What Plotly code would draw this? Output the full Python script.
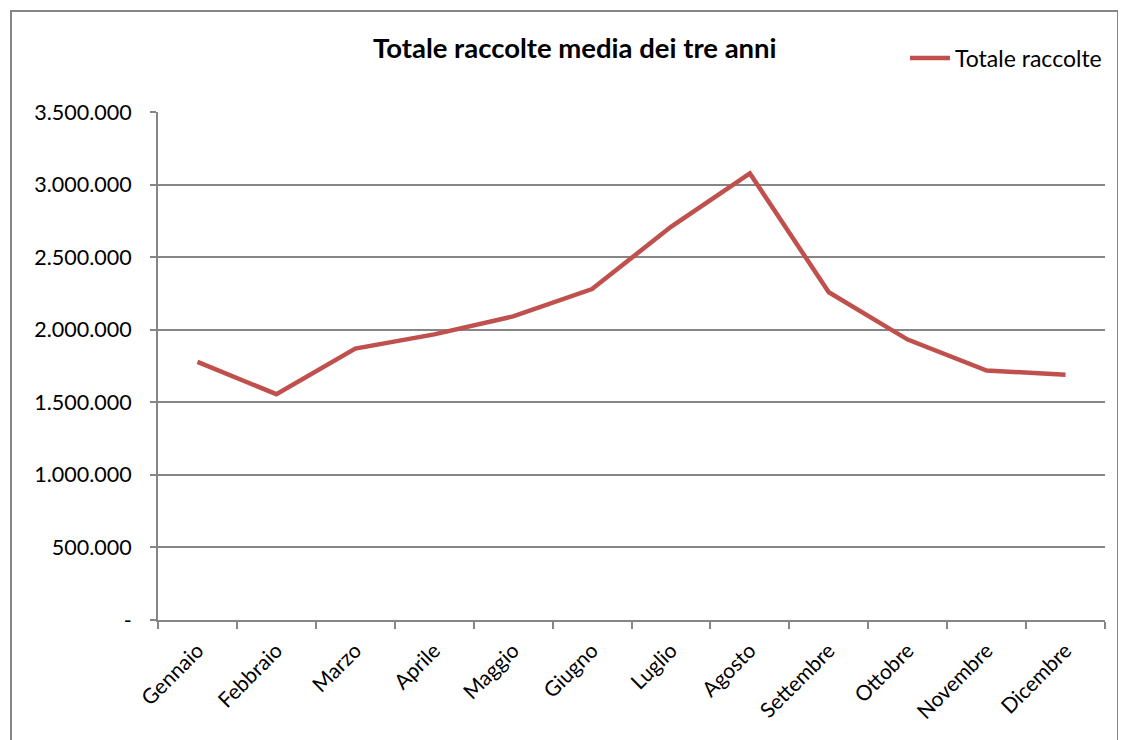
import plotly.graph_objects as go

months = ["Gennaio", "Febbraio", "Marzo", "Aprile", "Maggio", "Giugno",
          "Luglio", "Agosto", "Settembre", "Ottobre", "Novembre", "Dicembre"]
totale_raccolte = [1778000, 1556000, 1870000, 1968000, 2092000, 2280000,
                   2709000, 3077000, 2258000, 1932000, 1719000, 1690000]
y_tickvals = [0, 500000, 1000000, 1500000, 2000000, 2500000, 3000000, 3500000]
y_ticktext = ["-", "500.000", "1.000.000", "1.500.000", "2.000.000",
              "2.500.000", "3.000.000", "3.500.000"]

FONT = "Lato, Carlito, Calibri, sans-serif"
GRID = "#868686"

fig = go.Figure()
fig.add_trace(go.Scatter(
    x=months, y=totale_raccolte, mode="lines", name="Totale raccolte",
    line=dict(color="#C0504D", width=4.5),
))

OFF = 8  # browser body margin
W, H = 1126, 740
L, R, T, B = 150, 29, 104, 128
pw, ph = W - L - R, H - T - B

def px(x):
    return (x - OFF - L) / pw

def py(y):
    return (OFF + T + ph - y) / ph

fig.update_layout(
    width=W, height=H,
    margin=dict(l=L, r=R, t=T, b=B),
    paper_bgcolor="white", plot_bgcolor="white",
    font=dict(family=FONT, size=21, color="black"),
    showlegend=True,
    legend=dict(x=px(905), y=py(58), xanchor="left", yanchor="middle",
                font=dict(size=23), bgcolor="rgba(0,0,0,0)",
                itemwidth=40),
    xaxis=dict(type="category", range=[-0.5, 11.5], showgrid=False,
               showline=True, linecolor=GRID, linewidth=2,
               ticks="outside", tickson="boundaries", ticklen=7,
               tickcolor=GRID, tickwidth=2, tickangle=-45,
               ticklabelstandoff=8,
               tickfont=dict(size=21)),
    yaxis=dict(range=[0, 3500000], tickvals=y_tickvals, ticktext=y_ticktext,
               showgrid=True, gridcolor=GRID, gridwidth=1.5,
               showline=True, linecolor=GRID, linewidth=2,
               ticks="outside", ticklen=6, tickcolor=GRID, tickwidth=1.5,
               ticklabelstandoff=14,
               zeroline=False, tickfont=dict(size=21.5)),
    annotations=[dict(text="<b>Totale raccolte media dei tre anni</b>",
                      xref="paper", yref="paper", x=px(575), y=py(47),
                      xanchor="center", yanchor="middle", showarrow=False,
                      font=dict(size=27.5, family=FONT))],
    shapes=[dict(type="rect", xref="paper", yref="paper",
                 x0=px(11), x1=px(1118), y0=py(760), y1=py(11),
                 line=dict(color="#868686", width=2), layer="below")],
)

fig.write_html("out.html")
